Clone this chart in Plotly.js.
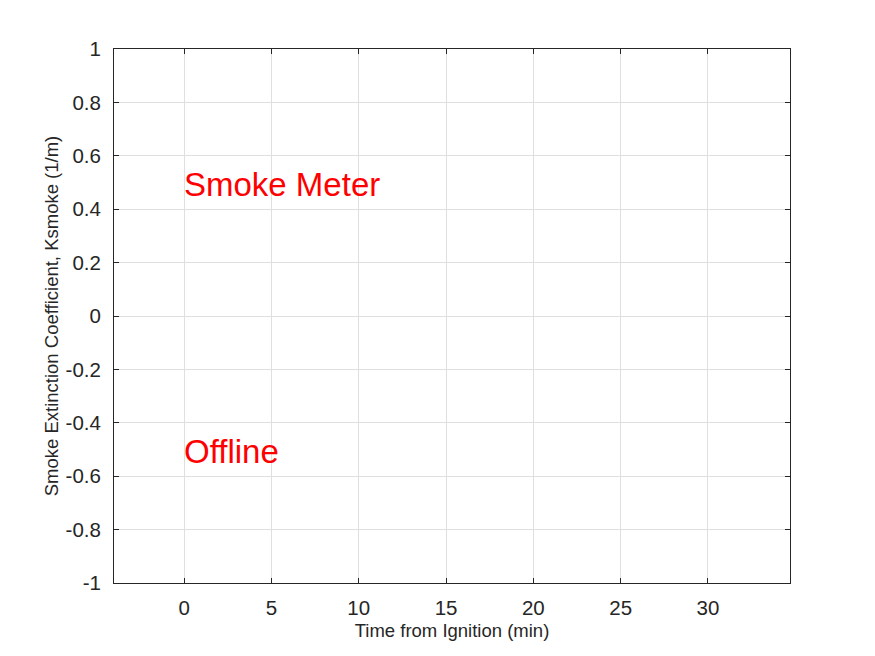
<!DOCTYPE html>
<html>
<head>
<meta charset="utf-8">
<script src="https://cdn.plot.ly/plotly-3.0.1.min.js"></script>
<style>
  html, body { margin: 0; padding: 0; background: #fff; }
  #chart { width: 875px; height: 656px; }
</style>
</head>
<body>
<div id="chart"></div>
<script>
// axis setup
const xTicks = [0, 5, 10, 15, 20, 25, 30];
const yTicks = [-1, -0.8, -0.6, -0.4, -0.2, 0, 0.2, 0.4, 0.6, 0.8, 1];
const yTickText = ['-1', '-0.8', '-0.6', '-0.4', '-0.2', '0', '0.2', '0.4', '0.6', '0.8', '1'];

// the two text labels drawn on the empty axes
const noteText = ['Smoke Meter', 'Offline'];
const noteX = [0, 0];
const noteY = [0.5, -0.5];

const axisColor = '#262626';
const gridColor = '#dfdfdf';
const fontFam = 'Liberation Sans, Arial, sans-serif';

const annotations = noteText.map((t, i) => ({
    x: noteX[i], y: noteY[i], xref: 'x', yref: 'y',
    text: t, showarrow: false, xanchor: 'left', yanchor: 'middle',
    xshift: -2, yshift: -2,
    font: { family: fontFam, size: 33, color: '#ff0000' }
}));

const axisCommon = {
    showline: true, linecolor: axisColor, linewidth: 1, mirror: 'ticks',
    ticks: 'inside', ticklen: 5, tickwidth: 1, tickcolor: axisColor,
    showgrid: true, gridcolor: gridColor, gridwidth: 1, zeroline: false,
    tickfont: { family: fontFam, size: 20.5, color: axisColor }
};

const layout = {
    width: 875, height: 656,
    margin: { l: 114, r: 85, t: 49, b: 73 },
    paper_bgcolor: '#fff', plot_bgcolor: '#fff',
    showlegend: false,
    xaxis: Object.assign({}, axisCommon, {
        range: [-4.02, 34.7], tickvals: xTicks,
        ticklabelstandoff: 6,
        title: { text: 'Time from Ignition (min)', standoff: 6,
                 font: { family: fontFam, size: 18.5, color: axisColor } }
    }),
    yaxis: Object.assign({}, axisCommon, {
        range: [-1, 1], tickvals: yTicks, ticktext: yTickText,
        ticklabelstandoff: 8,
        title: { text: 'Smoke Extinction Coefficient, Ksmoke (1/m)', standoff: 2,
                 font: { family: fontFam, size: 18.5, color: axisColor } }
    }),
    annotations: annotations
};

// empty trace so the axes are drawn
Plotly.newPlot('chart', [{ x: [], y: [], type: 'scatter', mode: 'lines' }], layout, { displayModeBar: false });
</script>
</body>
</html>
